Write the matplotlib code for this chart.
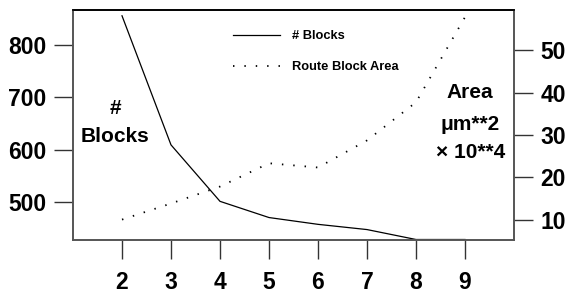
import matplotlib
matplotlib.use("Agg")
import matplotlib.pyplot as plt

plt.rcParams['font.family'] = ['Liberation Sans', 'DejaVu Sans']
plt.rcParams['font.weight'] = 'bold'

x = [2, 3, 4, 5, 6, 7, 8, 9]
blocks = [856, 609, 501, 470, 457, 447, 428, 428]
area = [10.0, 13.8, 17.8, 23.3, 22.3, 28.7, 37.7, 57.8]
xticks = [2, 3, 4, 5, 6, 7, 8, 9]
left_ticks = [500, 600, 700, 800]
right_ticks = [10, 20, 30, 40, 50]

W, H = 571, 306
fig = plt.figure(figsize=(W/100, H/100), dpi=100)
ax = fig.add_axes([73/W, 1-239.5/H, (514-73)/W, (239.5-9.5)/H])
ax2 = ax.twinx()

l1, = ax.plot(x, blocks, color='black', lw=0.9, label='# Blocks')
l2, = ax2.plot(x, area, color='black', lw=1.3, linestyle=(0, (0.8, 5.5)), label='Route Block Area')

ax.set_xlim(1, 10)
ax.set_ylim(428, 868)
ax2.set_ylim(5.3, 59.6)

ax.set_xticks(xticks)
ax.set_yticks(left_ticks)
ax2.set_yticks(right_ticks)

for a in (ax, ax2):
    for s in a.spines.values():
        s.set_linewidth(1.2)
        s.set_color('#555555')
    a.spines['top'].set_color('black')
ax.tick_params(axis='both', direction='out', length=13.5, width=1.0, color='#333333',
               labelsize=16.5, pad=5.5)
ax.tick_params(axis='x', pad=9.5)
ax2.tick_params(axis='y', which='major', direction='out', length=14, width=1.0,
                color='#333333', labelsize=16.5, pad=5)
for lab in ax.get_xticklabels() + ax.get_yticklabels() + ax2.get_yticklabels():
    lab.set_fontweight('bold')

fs = 15
fig.text(115/W, 1-108/H, '#', ha='center', va='center', fontsize=fs, fontweight='bold')
fig.text(115/W, 1-136/H, 'Blocks', ha='center', va='center', fontsize=fs, fontweight='bold')
fig.text(470/W, 1-92/H, 'Area', ha='center', va='center', fontsize=fs, fontweight='bold')
fig.text(470/W, 1-125/H, 'μm**2', ha='center', va='center', fontsize=fs, fontweight='bold')
fig.text(471/W, 1-153/H, '× 10**4', ha='center', va='center', fontsize=fs, fontweight='bold')

leg = fig.legend(handles=[l1, l2], loc='upper left', bbox_to_anchor=(233/W, 1-30/H),
                 frameon=False, fontsize=9.3, handlelength=3.6, handletextpad=1.0,
                 labelspacing=1.5, borderaxespad=0, borderpad=0)
for t in leg.get_texts():
    t.set_fontweight('bold')

fig.savefig('out.png', dpi=100)
